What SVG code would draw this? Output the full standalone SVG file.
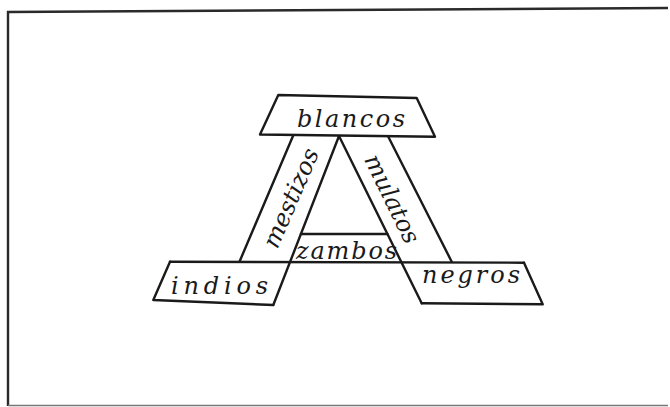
<svg xmlns="http://www.w3.org/2000/svg" width="670" height="407" viewBox="0 0 670 407">
<style>
.ln{fill:none;stroke:#1a1a1a;stroke-width:2.4;stroke-linecap:round;stroke-linejoin:round}
.frame{fill:none;stroke:#2a2a2a;stroke-width:2.4}
.lbl{font-family:"DejaVu Serif","Liberation Serif",serif;font-style:italic;font-size:24px;fill:#1a1a1a}
</style>
<rect width="670" height="407" fill="#ffffff"/>
<polyline class="frame" points="8,406 8,12 668,8"/>
<line x1="8" y1="405.5" x2="668" y2="405.5" stroke="#777" stroke-width="1.5"/>
<g id="blancos">
<polygon class="ln" points="278.3,95 416.7,98 435,136.7 260,134.5"/>
<text class="lbl" x="297" y="127" textLength="108" lengthAdjust="spacing">blancos</text>
</g>
<g id="mestizos">
<line class="ln" x1="293" y1="136" x2="239.5" y2="261.7"/>
<text class="lbl" transform="translate(291,198) rotate(-66.5)" x="-53" y="8" textLength="106" lengthAdjust="spacing">mestizos</text>
</g>
<g id="mulatos">
<line class="ln" x1="388.3" y1="136.7" x2="451.7" y2="261.7"/>
<text class="lbl" transform="translate(392,199) rotate(64)" x="-48" y="8" textLength="96" lengthAdjust="spacing">mulatos</text>
</g>
<g id="zambos">
<line class="ln" x1="300.9" y1="234" x2="387.4" y2="234"/>
<text class="lbl" x="296" y="259" textLength="101" lengthAdjust="spacing">zambos</text>
</g>
<g id="indios">
<polyline class="ln" points="170,261.7 153.3,300 273.3,305"/>
<text class="lbl" x="171" y="294" textLength="97" lengthAdjust="spacing">indios</text>
</g>
<g id="negros">
<polyline class="ln" points="524,262.7 542.7,304.3 421.7,303.3"/>
<text class="lbl" x="422" y="283" textLength="98" lengthAdjust="spacing">negros</text>
</g>
<g id="connectors">
<line class="ln" x1="339" y1="136" x2="273.3" y2="305"/>
<line class="ln" x1="339" y1="136" x2="421.7" y2="303.3"/>
<line class="ln" x1="170" y1="261.7" x2="524" y2="262.7"/>
</g>
</svg>
